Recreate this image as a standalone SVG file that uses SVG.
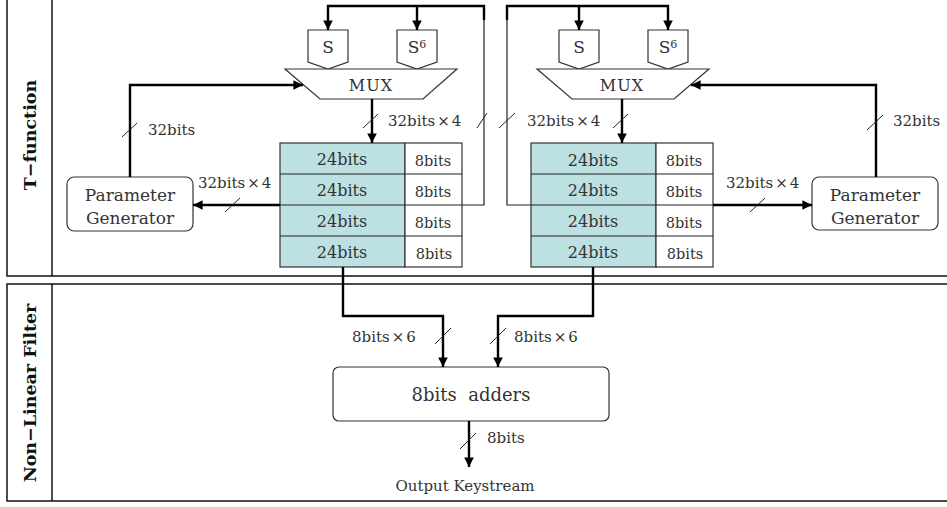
<svg xmlns="http://www.w3.org/2000/svg" width="947" height="507" viewBox="0 0 947 507">
  <style>
    .frame { fill: none; stroke: #111; stroke-width: 1.5; }
    .box { fill: #fff; stroke: #333; stroke-width: 1.2; }
    .reg { fill: #bde0e2; stroke: #333; stroke-width: 1.2; }
    .cell { fill: #fff; stroke: #333; stroke-width: 1.2; }
    .txt { font-family: "DejaVu Serif", "Liberation Serif", serif; fill: #333; text-anchor: middle; dominant-baseline: central; }
    .wide { font-size: 16px; }
    .narrow { font-size: 14.5px; }
    .lbl { font-family: "DejaVu Serif", "Liberation Serif", serif; fill: #333; font-size: 15px; dominant-baseline: central; }
    .sec { font-family: "DejaVu Serif", "Liberation Serif", serif; fill: #111; font-size: 17.5px; font-weight: bold; text-anchor: middle; dominant-baseline: central; }
    .bus { fill: none; stroke: #000; stroke-width: 2.4; }
    .wire { fill: none; stroke: #222; stroke-width: 1.2; }
    .tick { fill: none; stroke: #222; stroke-width: 1; }
  </style>
  <defs>
    <marker id="arrow" viewBox="0 0 10 10" refX="10" refY="5" markerWidth="4.2" markerHeight="4" markerUnits="strokeWidth" orient="auto">
      <path d="M0,0 L10,5 L0,10 Z" fill="#000"/>
    </marker>
  </defs>

  <!-- section frames -->
  <g id="frame-tfunction">
    <polyline class="frame" points="947,276 7,276 7,0"/>
    <line class="frame" x1="52" y1="0" x2="52" y2="276"/>
    <text class="sec" transform="translate(30,135) rotate(-90)">T−function</text>
  </g>
  <g id="frame-filter">
    <polyline class="frame" points="947,284 7,284 7,501 947,501"/>
    <line class="frame" x1="52" y1="284" x2="52" y2="501"/>
    <text class="sec" transform="translate(30,393) rotate(-90)">Non−Linear Filter</text>
  </g>

  <!-- left S-boxes -->
  <g id="sbox-left-s">
    <polygon class="box" points="308,30 348,30 348,62 328,69 308,62"/>
    <text class="txt" x="328" y="47" font-size="17">S</text>
  </g>
  <g id="sbox-left-s6">
    <polygon class="box" points="397,30 437,30 437,62 417,69 397,62"/>
    <text class="txt" x="417" y="47" font-size="17">S<tspan font-size="11" dy="-3">6</tspan></text>
  </g>
  <g id="mux-left">
    <polygon class="box" points="285,69 457,69 423,99 320,99"/>
    <text class="txt" x="371" y="85" font-size="16" letter-spacing="1">MUX</text>
  </g>

  <!-- right S-boxes -->
  <g id="sbox-right-s">
    <polygon class="box" points="559,30 599,30 599,62 579,69 559,62"/>
    <text class="txt" x="579" y="47" font-size="17">S</text>
  </g>
  <g id="sbox-right-s6">
    <polygon class="box" points="648,30 688,30 688,62 668,69 648,62"/>
    <text class="txt" x="668" y="47" font-size="17">S<tspan font-size="11" dy="-3">6</tspan></text>
  </g>
  <g id="mux-right">
    <polygon class="box" points="537,69 709,69 674,99 572,99"/>
    <text class="txt" x="622" y="85" font-size="16" letter-spacing="1">MUX</text>
  </g>

  <!-- left register file -->
  <g id="register-left">
    <rect class="reg" x="280" y="143" width="125" height="124"/>
    <rect class="cell" x="405" y="143" width="57" height="124"/>
    <line class="wire" x1="280" y1="174" x2="462" y2="174"/>
    <line class="wire" x1="280" y1="205" x2="462" y2="205"/>
    <line class="wire" x1="280" y1="236" x2="462" y2="236"/>
    <text class="txt wide" x="342" y="159">24bits</text>
    <text class="txt wide" x="342" y="190">24bits</text>
    <text class="txt wide" x="342" y="221">24bits</text>
    <text class="txt wide" x="342" y="252">24bits</text>
    <text class="txt narrow" x="433" y="161">8bits</text>
    <text class="txt narrow" x="433" y="192">8bits</text>
    <text class="txt narrow" x="433" y="223">8bits</text>
    <text class="txt narrow" x="434" y="254">8bits</text>
  </g>

  <!-- right register file -->
  <g id="register-right">
    <rect class="reg" x="531" y="143" width="125" height="124"/>
    <rect class="cell" x="656" y="143" width="57" height="124"/>
    <line class="wire" x1="531" y1="174" x2="713" y2="174"/>
    <line class="wire" x1="531" y1="205" x2="713" y2="205"/>
    <line class="wire" x1="531" y1="236" x2="713" y2="236"/>
    <text class="txt wide" x="593" y="160">24bits</text>
    <text class="txt wide" x="593" y="190">24bits</text>
    <text class="txt wide" x="593" y="221">24bits</text>
    <text class="txt wide" x="593" y="252">24bits</text>
    <text class="txt narrow" x="684" y="161">8bits</text>
    <text class="txt narrow" x="684" y="192">8bits</text>
    <text class="txt narrow" x="684" y="223">8bits</text>
    <text class="txt narrow" x="685" y="254">8bits</text>
  </g>

  <!-- parameter generators -->
  <g id="paramgen-left">
    <rect class="box" x="67" y="177" width="126" height="54" rx="7"/>
    <text class="txt" x="130" y="195" font-size="17">Parameter</text>
    <text class="txt" x="130" y="218" font-size="17">Generator</text>
  </g>
  <g id="paramgen-right">
    <rect class="box" x="812" y="177" width="126" height="53" rx="7"/>
    <text class="txt" x="875" y="195" font-size="17">Parameter</text>
    <text class="txt" x="875" y="218" font-size="17">Generator</text>
  </g>

  <!-- adder -->
  <g id="adders">
    <rect class="box" x="333" y="367" width="276" height="54" rx="6"/>
    <text class="txt" x="471" y="394" font-size="18" xml:space="preserve">8bits  adders</text>
  </g>
  <g id="output-label">
    <text class="txt" x="465" y="486" font-size="15">Output Keystream</text>
  </g>

  <!-- connectors -->
  <g id="connectors">
    <!-- left feedback loop into the S-boxes -->
    <polyline class="wire" points="462,205 484,205 484,20"/>
    <polyline class="bus" points="484,20 484,6 328,6 328,30" marker-end="url(#arrow)"/>
    <line class="bus" x1="417" y1="6" x2="417" y2="30" marker-end="url(#arrow)"/>
    <!-- right feedback loop into the S-boxes -->
    <polyline class="wire" points="531,205 507,205 507,20"/>
    <polyline class="bus" points="507,20 507,6 668,6 668,30" marker-end="url(#arrow)"/>
    <line class="bus" x1="579" y1="6" x2="579" y2="30" marker-end="url(#arrow)"/>

    <!-- MUX outputs into registers -->
    <line class="bus" x1="372" y1="99" x2="372" y2="143" marker-end="url(#arrow)"/>
    <line class="bus" x1="622" y1="99" x2="622" y2="143" marker-end="url(#arrow)"/>

    <!-- parameter generator to MUX -->
    <polyline class="bus" points="130,177 130,85 303,85" marker-end="url(#arrow)"/>
    <polyline class="bus" points="876,177 876,85 691,85" marker-end="url(#arrow)"/>

    <!-- registers to parameter generators -->
    <line class="bus" x1="280" y1="205" x2="193" y2="205" marker-end="url(#arrow)"/>
    <line class="bus" x1="713" y1="205" x2="812" y2="205" marker-end="url(#arrow)"/>

    <!-- registers to adders -->
    <polyline class="bus" points="343,267 343,316 443,316 443,367" marker-end="url(#arrow)"/>
    <polyline class="bus" points="593,267 593,316 498,316 498,367" marker-end="url(#arrow)"/>

    <!-- adder output -->
    <line class="bus" x1="469" y1="421" x2="469" y2="467" marker-end="url(#arrow)"/>

    <!-- bus-width ticks -->
    <line class="tick" x1="363" y1="128" x2="378" y2="114"/>
    <line class="tick" x1="477" y1="128" x2="487" y2="113"/>
    <line class="tick" x1="499" y1="128" x2="515" y2="113"/>
    <line class="tick" x1="613" y1="128" x2="628" y2="114"/>
    <line class="tick" x1="122" y1="137" x2="137" y2="123"/>
    <line class="tick" x1="867" y1="130" x2="883" y2="115"/>
    <line class="tick" x1="225" y1="212" x2="240" y2="198"/>
    <line class="tick" x1="750" y1="212" x2="765" y2="198"/>
    <line class="tick" x1="435" y1="344" x2="451" y2="328"/>
    <line class="tick" x1="490" y1="344" x2="506" y2="328"/>
    <line class="tick" x1="460" y1="449" x2="476" y2="433"/>

    <!-- bus-width labels -->
    <text class="lbl" x="388" y="121">32bits<tspan dx="2">×</tspan><tspan dx="2">4</tspan></text>
    <text class="lbl" x="527" y="121">32bits<tspan dx="2">×</tspan><tspan dx="2">4</tspan></text>
    <text class="lbl" x="148" y="130">32bits</text>
    <text class="lbl" x="893" y="121">32bits</text>
    <text class="lbl" x="198" y="183">32bits<tspan dx="2">×</tspan><tspan dx="2">4</tspan></text>
    <text class="lbl" x="726" y="183">32bits<tspan dx="2">×</tspan><tspan dx="2">4</tspan></text>
    <text class="lbl" x="352" y="337">8bits<tspan dx="2">×</tspan><tspan dx="2">6</tspan></text>
    <text class="lbl" x="514" y="337">8bits<tspan dx="2">×</tspan><tspan dx="2">6</tspan></text>
    <text class="lbl" x="487" y="438">8bits</text>
  </g>
</svg>
